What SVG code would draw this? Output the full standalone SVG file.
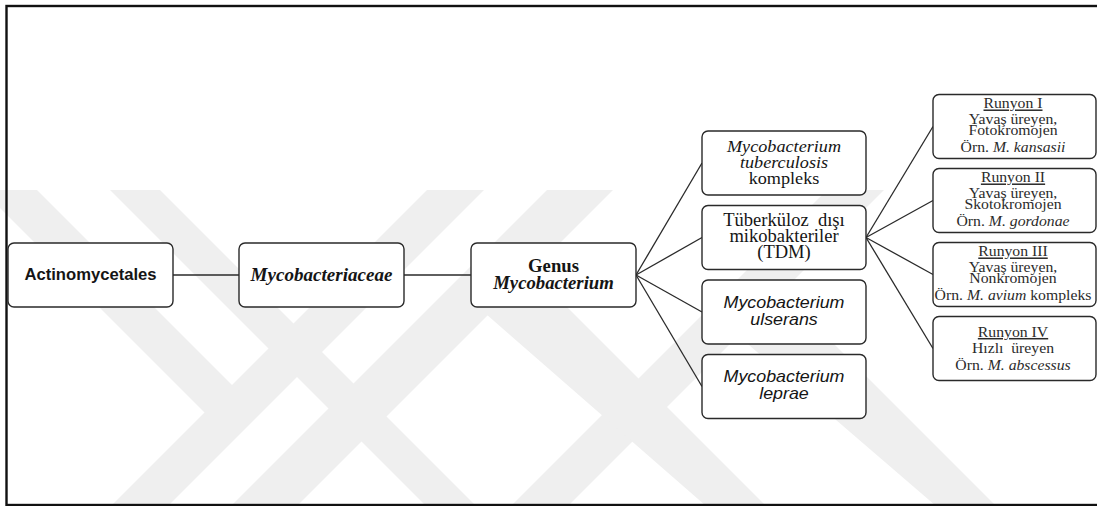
<svg xmlns="http://www.w3.org/2000/svg" width="1097" height="506" viewBox="0 0 1097 506">
  <style>
    .frame { fill: none; stroke: #111; stroke-width: 2.4; }
    .wm { fill: #efefef; stroke: none; }
    .box { fill: #fff; stroke: #2a2a2a; stroke-width: 1.4; }
    .ln { fill: none; stroke: #2a2a2a; stroke-width: 1.3; }
    .serif { font-family: "Liberation Serif", "Times New Roman", serif; fill: #151515; text-anchor: middle; }
    .sans { font-family: "Liberation Sans", Arial, sans-serif; fill: #151515; text-anchor: middle; }
    .b { font-weight: bold; }
    .i { font-style: italic; }
    .s18 { font-size: 18px; }
    .s17 { font-size: 17px; }
    .s16 { font-size: 16px; }
    .s15 { font-size: 15px; }
    .run { fill: #2b2b2b; }
    .u { text-decoration: underline; }
  </style>

  <rect x="0" y="0" width="1097" height="506" fill="#fff"/>

  <g id="watermark">
    <polygon class="wm" points="427,190 484,190 168,506 111,506"/>
    <polygon class="wm" points="547,190 613,190 297,506 231,506"/>
    <polygon class="wm" points="827,190 884,190 568,506 511,506"/>
    <polygon class="wm" points="-18,190 37,190 247,400 217,425"/>
    <polygon class="wm" points="110,190 160,190 476,506 426,506"/>
    <polygon class="wm" points="470,300 530,270 766,506 706,506"/>
    <polygon class="wm" points="720,320 770,280 996,506 936,506"/>
  </g>

  <rect class="frame" x="6.5" y="6" width="1100" height="499"/>

  <g id="connectors">
    <line class="ln" x1="173" y1="275" x2="239" y2="275"/>
    <line class="ln" x1="404" y1="275" x2="471" y2="275"/>
    <line class="ln" x1="636" y1="275" x2="702" y2="163"/>
    <line class="ln" x1="636" y1="275" x2="702" y2="237.5"/>
    <line class="ln" x1="636" y1="275" x2="702" y2="312"/>
    <line class="ln" x1="636" y1="275" x2="702" y2="386.5"/>
    <line class="ln" x1="866" y1="237.5" x2="933" y2="126.5"/>
    <line class="ln" x1="866" y1="237.5" x2="933" y2="200.5"/>
    <line class="ln" x1="866" y1="237.5" x2="933" y2="274.5"/>
    <line class="ln" x1="866" y1="237.5" x2="933" y2="348.5"/>
  </g>

  <g id="actinomycetales">
    <rect class="box" x="8" y="243" width="165" height="64" rx="6"/>
    <text class="sans b s16" transform="matrix(1.04 0 0 1 90.5 0)" x="0" y="280.5">Actinomycetales</text>
  </g>

  <g id="mycobacteriaceae">
    <rect class="box" x="239" y="243" width="165" height="64" rx="6"/>
    <text class="serif b i s18" transform="matrix(1.06 0 0 1 321.5 0)" x="0" y="281">Mycobacteriaceae</text>
  </g>

  <g id="genus">
    <rect class="box" x="471" y="243" width="165" height="64" rx="6"/>
    <text class="serif b s18" transform="matrix(1.04 0 0 1 553.5 0)" x="0" y="272">Genus</text>
    <text class="serif b i s18" transform="matrix(1.04 0 0 1 553.5 0)" x="0" y="289">Mycobacterium</text>
  </g>

  <g id="mtb-kompleks">
    <rect class="box" x="702" y="131" width="164" height="64" rx="6"/>
    <text class="serif i s17" transform="matrix(1.07 0 0 1 784 0)" x="0" y="152">Mycobacterium</text>
    <text class="serif i s17" transform="matrix(1.07 0 0 1 784 0)" x="0" y="168">tuberculosis</text>
    <text class="serif s17" transform="matrix(1.07 0 0 1 784 0)" x="0" y="184.5">kompleks</text>
  </g>

  <g id="tdm">
    <rect class="box" x="702" y="205.5" width="164" height="64" rx="6"/>
    <text class="serif s18" transform="matrix(1.03 0 0 1 784 0)" x="0" y="226.5" xml:space="preserve">Tüberküloz  dışı</text>
    <text class="serif s18" transform="matrix(1.03 0 0 1 784 0)" x="0" y="242.5">mikobakteriler</text>
    <text class="serif s18" transform="matrix(1.03 0 0 1 784 0)" x="0" y="258.5">(TDM)</text>
  </g>

  <g id="ulserans">
    <rect class="box" x="702" y="280" width="164" height="64" rx="6"/>
    <text class="sans i s17" transform="matrix(1.05 0 0 1 784 0)" x="0" y="308">Mycobacterium</text>
    <text class="sans i s17" transform="matrix(1.05 0 0 1 784 0)" x="0" y="325">ulserans</text>
  </g>

  <g id="leprae">
    <rect class="box" x="702" y="354.5" width="164" height="64" rx="6"/>
    <text class="sans i s17" transform="matrix(1.05 0 0 1 784 0)" x="0" y="382.5">Mycobacterium</text>
    <text class="sans i s17" transform="matrix(1.05 0 0 1 784 0)" x="0" y="399.5">leprae</text>
  </g>

  <g id="runyon-1">
    <rect class="box" x="933" y="94.5" width="163" height="64" rx="6"/>
    <text class="serif run s15 u" transform="matrix(1.05 0 0 1 1013 0)" x="0" y="108.5">Runyon I</text>
    <text class="serif run s15" transform="matrix(1.05 0 0 1 1013 0)" x="0" y="124">Yavaş üreyen,</text>
    <text class="serif run s15" transform="matrix(1.05 0 0 1 1013 0)" x="0" y="135.5">Fotokromojen</text>
    <text class="serif run s15" transform="matrix(1.05 0 0 1 1013 0)" x="0" y="152">Örn. <tspan class="i">M. kansasii</tspan></text>
  </g>

  <g id="runyon-2">
    <rect class="box" x="933" y="168.5" width="163" height="64" rx="6"/>
    <text class="serif run s15 u" transform="matrix(1.05 0 0 1 1013 0)" x="0" y="182.5">Runyon II</text>
    <text class="serif run s15" transform="matrix(1.05 0 0 1 1013 0)" x="0" y="198">Yavaş üreyen,</text>
    <text class="serif run s15" transform="matrix(1.05 0 0 1 1013 0)" x="0" y="209.5">Skotokromojen</text>
    <text class="serif run s15" transform="matrix(1.05 0 0 1 1013 0)" x="0" y="226">Örn. <tspan class="i">M. gordonae</tspan></text>
  </g>

  <g id="runyon-3">
    <rect class="box" x="933" y="242.5" width="163" height="64" rx="6"/>
    <text class="serif run s15 u" transform="matrix(1.05 0 0 1 1013 0)" x="0" y="256.5">Runyon III</text>
    <text class="serif run s15" transform="matrix(1.05 0 0 1 1013 0)" x="0" y="272">Yavaş üreyen,</text>
    <text class="serif run s15" transform="matrix(1.05 0 0 1 1013 0)" x="0" y="283.5">Nonkromojen</text>
    <text class="serif run s15" transform="matrix(1.05 0 0 1 1013 0)" x="0" y="300">Örn. <tspan class="i">M. avium</tspan> kompleks</text>
  </g>

  <g id="runyon-4">
    <rect class="box" x="933" y="316.5" width="163" height="64" rx="6"/>
    <text class="serif run s15 u" transform="matrix(1.05 0 0 1 1013 0)" x="0" y="337">Runyon IV</text>
    <text class="serif run s15" transform="matrix(1.05 0 0 1 1013 0)" x="0" y="353.5" xml:space="preserve">Hızlı  üreyen</text>
    <text class="serif run s15" transform="matrix(1.05 0 0 1 1013 0)" x="0" y="370.5">Örn. <tspan class="i">M. abscessus</tspan></text>
  </g>
</svg>
